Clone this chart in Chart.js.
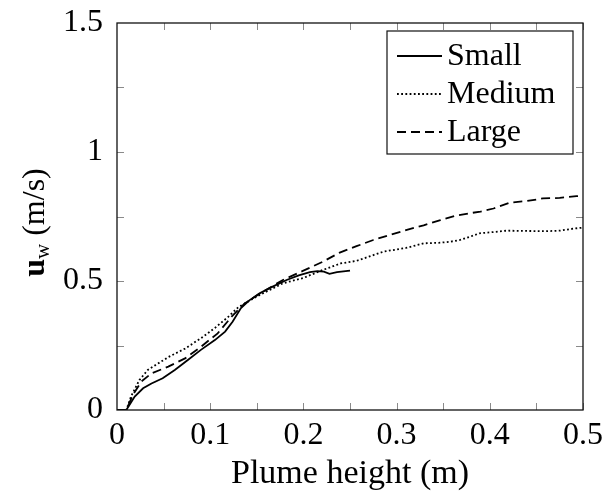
<!DOCTYPE html>
<html>
<head>
<meta charset="utf-8">
<script src="https://cdn.jsdelivr.net/npm/chart.js@4.4.1/dist/chart.umd.min.js"></script>
<style>
  html, body { margin: 0; padding: 0; background: #fff; }
  #wrap { width: 603px; height: 494px; }
</style>
</head>
<body>
<div id="wrap"><canvas id="plumeChart" width="603" height="494"></canvas></div>
<script>
// --- DATA (plume height in m, velocity in m/s) ---
const seriesNames = ['Small', 'Medium', 'Large'];

const smallHeight = [0, 0.010, 0.019, 0.028, 0.037, 0.049, 0.062, 0.076, 0.090, 0.105, 0.116, 0.124, 0.133, 0.142, 0.153, 0.167, 0.182, 0.195, 0.207, 0.215, 0.222, 0.228, 0.236, 0.250];
const smallVel    = [0, 0,     0.052, 0.084, 0.103, 0.123, 0.155, 0.194, 0.233, 0.271, 0.304, 0.342, 0.395, 0.425, 0.452, 0.478, 0.504, 0.522, 0.534, 0.538, 0.536, 0.528, 0.534, 0.540];

const mediumHeight = [0, 0.010, 0.015, 0.024, 0.033, 0.055, 0.073, 0.090, 0.105, 0.119, 0.130, 0.150, 0.178, 0.200, 0.221, 0.240, 0.257, 0.286, 0.310, 0.329, 0.345, 0.357, 0.368, 0.379, 0.389, 0.405, 0.418, 0.440, 0.460, 0.475, 0.490, 0.500];
const mediumVel    = [0, 0,     0.052, 0.116, 0.155, 0.205, 0.238, 0.278, 0.318, 0.360, 0.398, 0.440, 0.491, 0.512, 0.543, 0.568, 0.578, 0.614, 0.628, 0.646, 0.648, 0.652, 0.659, 0.672, 0.685, 0.690, 0.695, 0.694, 0.693, 0.695, 0.703, 0.707];

const largeHeight = [0, 0.010, 0.017, 0.026, 0.037, 0.055, 0.073, 0.090, 0.108, 0.123, 0.137, 0.155, 0.178, 0.200, 0.221, 0.239, 0.257, 0.275, 0.293, 0.311, 0.329, 0.347, 0.362, 0.379, 0.390, 0.404, 0.422, 0.440, 0.457, 0.475, 0.493, 0.500];
const largeVel    = [0, 0,     0.058, 0.110, 0.142, 0.168, 0.200, 0.245, 0.297, 0.362, 0.413, 0.455, 0.504, 0.540, 0.575, 0.610, 0.635, 0.659, 0.679, 0.698, 0.716, 0.736, 0.752, 0.763, 0.769, 0.781, 0.804, 0.810, 0.820, 0.822, 0.829, 0.830];

const xTickLabels = ['0', '0.1', '0.2', '0.3', '0.4', '0.5'];
const yTickLabels = ['0', '0.5', '1', '1.5'];

// --- STYLE ---
const SERIF = '"Liberation Serif", "Times New Roman", serif';
const lineStyles = [
    { dash: [], width: 1.8 },
    { dash: [1.8, 2.4], width: 1.8 },
    { dash: [9, 5], width: 1.8 }
];

function toPoints(xs, ys) {
    return xs.map((x, i) => ({ x: x, y: ys[i] }));
}

const seriesData = [
    toPoints(smallHeight, smallVel),
    toPoints(mediumHeight, mediumVel),
    toPoints(largeHeight, largeVel)
];

// frame, inward ticks, y title and boxed legend (pgfplots look)
const plotDecor = {
    id: 'plotDecor',
    afterDraw(chart) {
        const ctx = chart.ctx;
        const a = chart.chartArea;
        const xs = chart.scales.x, ys = chart.scales.y;
        ctx.save();

        // ticks drawn inward on all four sides
        ctx.strokeStyle = '#8a8a8a';
        ctx.lineWidth = 1;
        const tl = 7;
        ctx.beginPath();
        for (let v = 0.05; v < 0.5; v += 0.05) {
            const px = Math.round(xs.getPixelForValue(v)) + 0.5;
            ctx.moveTo(px, a.bottom); ctx.lineTo(px, a.bottom - tl);
            ctx.moveTo(px, a.top); ctx.lineTo(px, a.top + tl);
        }
        for (let v = 0.25; v < 1.5; v += 0.25) {
            const py = Math.round(ys.getPixelForValue(v)) + 0.5;
            ctx.moveTo(a.left, py); ctx.lineTo(a.left + tl, py);
            ctx.moveTo(a.right, py); ctx.lineTo(a.right - tl, py);
        }
        ctx.stroke();

        // axis box
        ctx.strokeStyle = '#111';
        ctx.lineWidth = 1.3;
        ctx.strokeRect(a.left, a.top, a.right - a.left, a.bottom - a.top);

        // y axis title: bold u, subscript w, (m/s)
        ctx.save();
        ctx.translate(34, (a.top + a.bottom) / 2 + 6);
        ctx.rotate(-Math.PI / 2);
        ctx.fillStyle = '#000';
        ctx.textBaseline = 'alphabetic';
        const fMain = 'bold 32px ' + SERIF;
        const fSub = '21px ' + SERIF;
        const fRest = '32px ' + SERIF;
        ctx.font = fMain; const w1 = ctx.measureText('u').width;
        ctx.font = fSub;  const w2 = ctx.measureText('w').width;
        ctx.font = fRest; const w3 = ctx.measureText(' (m/s)').width;
        let x0 = -(w1 + w2 + w3) / 2;
        const base = 10;
        ctx.font = fMain; ctx.fillText('u', x0, base); x0 += w1;
        ctx.font = fSub;  ctx.fillText('w', x0, base + 5); x0 += w2;
        ctx.font = fRest; ctx.fillText(' (m/s)', x0, base);
        ctx.restore();

        // legend box
        const lx = 387, ly = 31, lw = 186, lh = 123;
        ctx.fillStyle = '#fff';
        ctx.fillRect(lx, ly, lw, lh);
        ctx.strokeStyle = '#111';
        ctx.lineWidth = 1.2;
        ctx.strokeRect(lx, ly, lw, lh);
        ctx.font = '32px ' + SERIF;
        ctx.textBaseline = 'middle';
        ctx.fillStyle = '#000';
        chart.data.datasets.forEach((ds, i) => {
            const cy = 56 + i * 38;
            ctx.beginPath();
            ctx.strokeStyle = '#000';
            ctx.lineWidth = ds.borderWidth;
            ctx.setLineDash(ds.borderDash);
            ctx.moveTo(397, cy); ctx.lineTo(442, cy);
            ctx.stroke();
            ctx.setLineDash([]);
            ctx.fillText(ds.label, 447, cy + 1);
        });
        ctx.restore();
    }
};

const ctx = document.getElementById('plumeChart').getContext('2d');
new Chart(ctx, {
    type: 'line',
    data: {
        datasets: seriesNames.map((name, i) => ({
            label: name,
            data: seriesData[i],
            borderColor: '#000',
            borderWidth: lineStyles[i].width,
            borderDash: lineStyles[i].dash,
            pointRadius: 0,
            tension: 0,
            fill: false
        }))
    },
    options: {
        responsive: false,
        animation: false,
        layout: { padding: { top: 23, right: 20, left: 0, bottom: 0 } },
        plugins: { legend: { display: false }, tooltip: { enabled: false } },
        scales: {
            x: {
                type: 'linear',
                min: 0, max: 0.5,
                grid: { display: false, drawTicks: false },
                border: { display: false },
                ticks: {
                    stepSize: 0.1,
                    autoSkip: false,
                    maxRotation: 0,
                    padding: 6,
                    color: '#000',
                    font: { family: SERIF, size: 32 },
                    callback: (v, i) => xTickLabels[i]
                },
                title: {
                    display: true,
                    text: 'Plume height (m)',
                    color: '#000',
                    font: { family: SERIF, size: 34 },
                    padding: { top: 0, bottom: 0 }
                },
                afterFit: (s) => {
                    // keep the plot box fixed; labels may overhang the edges
                    s.height = 84;
                    s.paddingLeft = 0;
                    s.paddingRight = 0;
                }
            },
            y: {
                type: 'linear',
                min: 0, max: 1.5,
                grid: { display: false, drawTicks: false },
                border: { display: false },
                ticks: {
                    stepSize: 0.5,
                    autoSkip: false,
                    padding: 14,
                    color: '#000',
                    font: { family: SERIF, size: 32 },
                    callback: (v, i) => yTickLabels[i]
                },
                afterFit: (s) => {
                    s.width = 117;
                    s.paddingTop = 0;
                    s.paddingBottom = 0;
                }
            }
        }
    },
    plugins: [plotDecor]
});
</script>
</body>
</html>
